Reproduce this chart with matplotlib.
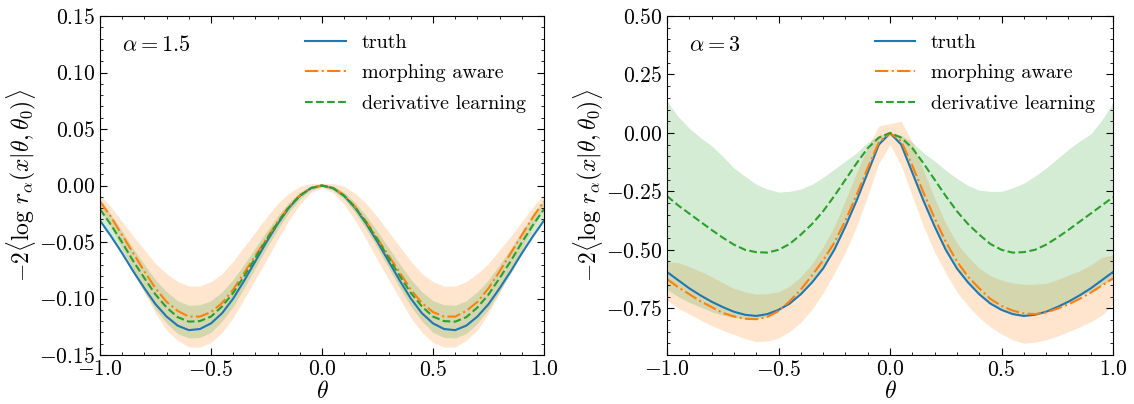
import numpy as np
import matplotlib
matplotlib.use("Agg")
import matplotlib.pyplot as plt
from matplotlib.ticker import MultipleLocator

plt.rcParams.update({
    "font.family": "serif",
    "font.serif": ["cmr10"],
    "mathtext.fontset": "cm",
    "axes.formatter.use_mathtext": True,
    "axes.unicode_minus": True,
})

# theta grid, step 0.05
theta = np.linspace(-1.0, 1.0, 41)

# ---- alpha = 1.5 (left) ----
truth_l = [-0.031, -0.045, -0.060, -0.076, -0.091, -0.105, -0.116, -0.124, -0.128, -0.127, -0.122,
           -0.113, -0.100, -0.084, -0.067, -0.050, -0.034, -0.020, -0.0092, -0.0023, 0.0,
           -0.0023, -0.0092, -0.020, -0.034, -0.050, -0.067, -0.084, -0.100, -0.113, -0.122,
           -0.127, -0.128, -0.124, -0.116, -0.105, -0.091, -0.076, -0.060, -0.045, -0.031]
morph_l = [-0.014, -0.028, -0.044, -0.060, -0.076, -0.091, -0.103, -0.111, -0.116, -0.116, -0.112,
           -0.104, -0.092, -0.077, -0.062, -0.047, -0.032, -0.019, -0.0087, -0.0023, 0.0,
           -0.0023, -0.0087, -0.019, -0.032, -0.047, -0.062, -0.077, -0.092, -0.104, -0.112,
           -0.116, -0.116, -0.111, -0.103, -0.091, -0.076, -0.060, -0.044, -0.028, -0.014]
deriv_l = [-0.021, -0.035, -0.0505, -0.067, -0.082, -0.0965, -0.108, -0.1165, -0.1205, -0.120, -0.116,
           -0.107, -0.095, -0.080, -0.064, -0.048, -0.033, -0.0195, -0.009, -0.0023, 0.0,
           -0.0023, -0.009, -0.0195, -0.033, -0.048, -0.064, -0.080, -0.095, -0.107, -0.116,
           -0.120, -0.1205, -0.1165, -0.108, -0.0965, -0.082, -0.067, -0.0505, -0.035, -0.021]
morph_hi_l = [-0.008, -0.019, -0.032, -0.045, -0.057, -0.069, -0.078, -0.085, -0.089, -0.089, -0.085,
              -0.078, -0.067, -0.054, -0.041, -0.028, -0.016, -0.007, -0.0007, 0.0017, 0.002,
              0.0017, -0.0007, -0.007, -0.016, -0.028, -0.041, -0.054, -0.067, -0.078, -0.085,
              -0.089, -0.089, -0.085, -0.078, -0.069, -0.057, -0.045, -0.032, -0.019, -0.008]
morph_lo_l = [-0.020, -0.037, -0.056, -0.075, -0.095, -0.113, -0.128, -0.137, -0.143, -0.143, -0.139,
              -0.130, -0.117, -0.100, -0.083, -0.066, -0.048, -0.031, -0.0167, -0.0063, -0.002,
              -0.0063, -0.0167, -0.031, -0.048, -0.066, -0.083, -0.100, -0.117, -0.130, -0.139,
              -0.143, -0.143, -0.137, -0.128, -0.113, -0.095, -0.075, -0.056, -0.037, -0.020]
deriv_hi_l = [-0.013, -0.026, -0.0405, -0.056, -0.070, -0.0835, -0.094, -0.102, -0.106, -0.1055, -0.102,
              -0.094, -0.083, -0.0695, -0.055, -0.0405, -0.027, -0.015, -0.006, -0.0003, 0.001,
              -0.0003, -0.006, -0.015, -0.027, -0.0405, -0.055, -0.0695, -0.083, -0.094, -0.102,
              -0.1055, -0.106, -0.102, -0.094, -0.0835, -0.070, -0.056, -0.0405, -0.026, -0.013]
deriv_lo_l = [-0.029, -0.044, -0.0605, -0.078, -0.094, -0.1095, -0.122, -0.131, -0.135, -0.1345, -0.130,
              -0.120, -0.107, -0.0905, -0.073, -0.0555, -0.039, -0.024, -0.012, -0.0043, -0.001,
              -0.0043, -0.012, -0.024, -0.039, -0.0555, -0.073, -0.0905, -0.107, -0.120, -0.130,
              -0.1345, -0.135, -0.131, -0.122, -0.1095, -0.094, -0.078, -0.0605, -0.044, -0.029]

# ---- alpha = 3 (right) ----
truth_r = [-0.595, -0.63, -0.665, -0.695, -0.722, -0.745, -0.765, -0.778, -0.783, -0.775, -0.757,
           -0.73, -0.69, -0.64, -0.58, -0.50, -0.40, -0.29, -0.17, -0.05, 0.0,
           -0.05, -0.17, -0.29, -0.40, -0.50, -0.58, -0.64, -0.69, -0.73, -0.757,
           -0.775, -0.783, -0.778, -0.765, -0.745, -0.722, -0.695, -0.665, -0.63, -0.595]
morph_r = [-0.625, -0.66, -0.69, -0.72, -0.745, -0.77, -0.785, -0.795, -0.797, -0.787, -0.762,
           -0.72, -0.67, -0.61, -0.545, -0.47, -0.375, -0.265, -0.15, -0.04, 0.0,
           -0.035, -0.14, -0.255, -0.365, -0.465, -0.55, -0.615, -0.665, -0.71, -0.74,
           -0.76, -0.772, -0.775, -0.768, -0.752, -0.733, -0.71, -0.683, -0.653, -0.622]
deriv_r = [-0.27, -0.31, -0.345, -0.38, -0.415, -0.448, -0.478, -0.50, -0.51, -0.512, -0.50,
           -0.475, -0.435, -0.39, -0.335, -0.27, -0.20, -0.13, -0.065, -0.02, 0.0,
           -0.02, -0.065, -0.13, -0.20, -0.27, -0.335, -0.39, -0.435, -0.475, -0.50,
           -0.512, -0.51, -0.50, -0.478, -0.448, -0.415, -0.38, -0.345, -0.31, -0.275]
morph_hi_r = [-0.551, -0.555, -0.572, -0.592, -0.615, -0.64, -0.665, -0.68, -0.689, -0.688, -0.679,
              -0.655, -0.615, -0.56, -0.487, -0.40, -0.287, -0.17, -0.06, 0.03, 0.04,
              0.05, -0.04, -0.16, -0.28, -0.387, -0.472, -0.53, -0.579, -0.61, -0.63,
              -0.642, -0.648, -0.647, -0.643, -0.628, -0.608, -0.59, -0.565, -0.532, -0.522]
morph_lo_r = [-0.715, -0.75, -0.775, -0.80, -0.825, -0.845, -0.862, -0.88, -0.893, -0.89, -0.878,
              -0.85, -0.81, -0.755, -0.685, -0.60, -0.51, -0.40, -0.27, -0.13, -0.05,
              -0.14, -0.27, -0.40, -0.51, -0.60, -0.68, -0.74, -0.79, -0.83, -0.86,
              -0.885, -0.90, -0.895, -0.885, -0.87, -0.85, -0.83, -0.808, -0.78, -0.735]
deriv_hi_r = [0.135, 0.07, 0.02, -0.02, -0.055, -0.10, -0.15, -0.185, -0.22, -0.24, -0.253,
              -0.25, -0.24, -0.22, -0.19, -0.155, -0.12, -0.085, -0.04, -0.01, 0.0,
              -0.01, -0.04, -0.085, -0.12, -0.16, -0.195, -0.225, -0.245, -0.25, -0.25,
              -0.235, -0.215, -0.185, -0.15, -0.11, -0.07, -0.035, -0.005, 0.055, 0.13]
deriv_lo_r = [-0.67, -0.70, -0.725, -0.745, -0.765, -0.78, -0.79, -0.795, -0.795, -0.785, -0.76,
              -0.73, -0.69, -0.64, -0.58, -0.50, -0.40, -0.29, -0.17, -0.05, -0.01,
              -0.05, -0.17, -0.29, -0.40, -0.50, -0.58, -0.64, -0.69, -0.73, -0.757,
              -0.772, -0.78, -0.775, -0.765, -0.748, -0.725, -0.70, -0.675, -0.65, -0.625]

panels = [
    dict(label=r"$\alpha=1.5$", ylim=(-0.15, 0.15), major=0.05, minor=0.01,
         truth=truth_l, morph=morph_l, deriv=deriv_l,
         band_m=(morph_lo_l, morph_hi_l), band_d=(deriv_lo_l, deriv_hi_l)),
    dict(label=r"$\alpha=3$", ylim=(-0.95, 0.5), major=0.25, minor=0.05,
         truth=truth_r, morph=morph_r, deriv=deriv_r,
         band_m=(morph_lo_r, morph_hi_r), band_d=(deriv_lo_r, deriv_hi_r)),
]

C_T, C_M, C_D = "#1f77b4", "#ff7f0e", "#2ca02c"

fig = plt.figure(figsize=(11.34, 4.04), dpi=100)
rects = [[0.0882, 0.1213, 0.3915, 0.839], [0.5882, 0.1213, 0.3933, 0.839]]

for rect, p in zip(rects, panels):
    ax = fig.add_axes(rect)
    ax.fill_between(theta, *p["band_m"], color=C_M, alpha=0.2, lw=0)
    ax.fill_between(theta, *p["band_d"], color=C_D, alpha=0.2, lw=0)
    ax.plot(theta, p["truth"], color=C_T, ls="-", lw=1.5, label="truth")
    ax.plot(theta, p["morph"], color=C_M, ls="-.", lw=1.5, label="morphing aware")
    ax.plot(theta, p["deriv"], color=C_D, ls="--", lw=1.5, label="derivative learning")
    ax.set_xlim(-1, 1); ax.set_ylim(*p["ylim"])
    ax.xaxis.set_major_locator(MultipleLocator(0.5)); ax.xaxis.set_minor_locator(MultipleLocator(0.1))
    ax.yaxis.set_major_locator(MultipleLocator(p["major"])); ax.yaxis.set_minor_locator(MultipleLocator(p["minor"]))
    ax.tick_params(which="both", direction="in", top=True, right=True, labelsize=15.5)
    ax.tick_params(which="major", length=5)
    ax.tick_params(which="minor", length=2.5)
    ax.set_xlabel(r"$\theta$", fontsize=17, labelpad=1)
    ax.set_ylabel(r"$-2\langle\log\,r_\alpha(x|\theta,\theta_0)\rangle$", fontsize=17, labelpad=1)
    ax.text(0.05, 0.915, p["label"], transform=ax.transAxes, fontsize=16, va="center")
    ax.legend(loc="upper right", frameon=False, fontsize=14.5, labelspacing=0.6)

fig.savefig("out.png", dpi=100)
